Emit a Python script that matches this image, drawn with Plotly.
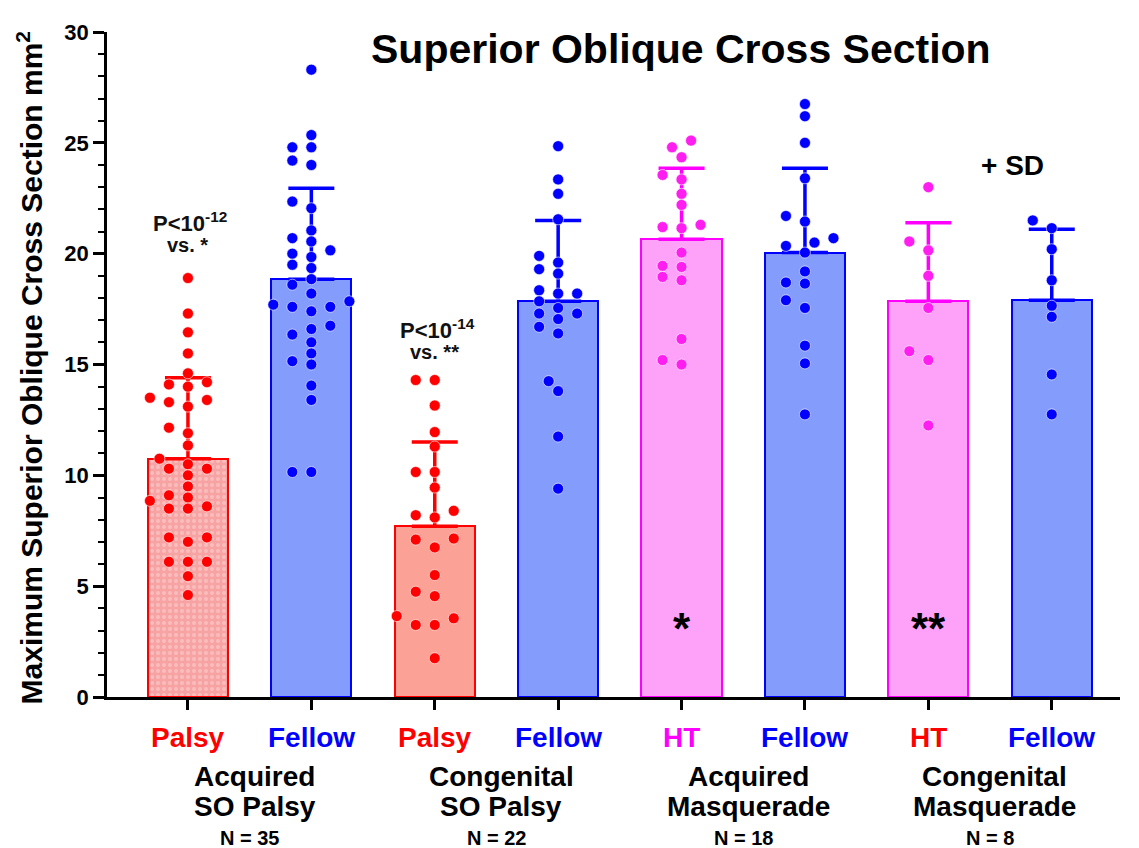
import plotly.graph_objects as go

# ---- data ----
bar_labels = ["Palsy", "Fellow", "Palsy", "Fellow", "HT", "Fellow", "HT", "Fellow"]
group_line1 = ["Acquired", "Congenital", "Acquired", "Congenital"]
group_line2 = ["SO Palsy", "SO Palsy", "Masquerade", "Masquerade"]
group_n = ["N = 35", "N = 22", "N = 18", "N = 8"]

means = [10.75, 18.85, 7.7, 17.85, 20.65, 20.05, 17.85, 17.9]
sds = [3.65, 4.1, 3.8, 3.65, 3.2, 3.8, 3.55, 3.2]

acq_palsy = [18.9, 17.3, 16.45, 15.5, 14.6, 14.2, 14.1, 14.0, 13.5, 13.4, 13.3, 13.1,
             12.15, 11.9, 11.35, 10.75, 10.5, 10.3, 10.3, 10.0, 9.5, 9.1, 9.0, 8.85,
             8.6, 8.5, 8.5, 7.2, 7.2, 7.0, 6.1, 6.1, 6.1, 5.45, 4.6]
acq_fellow = [28.3, 25.35, 24.8, 24.8, 24.2, 24.0, 22.35, 22.05, 21.05, 20.7, 20.55,
              20.15, 20.0, 19.85, 19.5, 19.35, 18.85, 18.6, 18.2, 17.85, 17.7, 17.6,
              17.6, 17.4, 16.75, 16.6, 16.35, 16.0, 15.5, 15.15, 15.0, 14.05, 13.4,
              10.15, 10.15]
cong_palsy = [14.3, 14.3, 13.15, 11.95, 11.3, 10.15, 10.15, 9.45, 8.4, 8.2, 8.1, 7.15,
              7.1, 6.75, 5.5, 4.75, 4.55, 3.65, 3.55, 3.25, 3.25, 1.75]
cong_fellow = [24.85, 23.35, 22.7, 21.55, 19.9, 19.6, 19.3, 19.1, 18.35, 18.2, 18.2,
               17.85, 17.55, 17.3, 17.3, 17.05, 16.7, 16.4, 14.25, 13.8, 11.75, 9.4]
acq_ht = [25.1, 24.8, 24.35, 23.55, 23.35, 22.7, 22.2, 21.3, 21.2, 21.15, 20.05, 19.45,
          19.4, 18.95, 18.8, 16.15, 15.2, 15.0]
acq_ht_fellow = [26.75, 26.2, 25.0, 23.4, 21.7, 21.45, 20.7, 20.5, 20.35, 20.05, 19.2,
                 18.7, 18.65, 17.9, 17.55, 15.85, 15.05, 12.75]
cong_ht = [23.0, 20.55, 20.15, 19.0, 17.55, 15.6, 15.2, 12.25]
cong_ht_fellow = [21.5, 21.15, 20.2, 18.8, 17.65, 17.15, 14.55, 12.75]

points = [acq_palsy, acq_fellow, cong_palsy, cong_fellow,
          acq_ht, acq_ht_fellow, cong_ht, cong_ht_fellow]

# ---- styling ----
RED = "#ff0000"
BLUE = "#0000ff"
MAG = "#ff00ff"
edge_col = [RED, BLUE, RED, BLUE, MAG, BLUE, MAG, BLUE]
dot_col = [RED, BLUE, RED, BLUE, "#ff1ef0", BLUE, "#ff1ef0", BLUE]
fill_col = ["#f7a3a3", "#849cfc", "#fca195", "#849cfc", "#fda2f8", "#849cfc", "#fda2f8", "#849cfc"]
label_col = [RED, BLUE, RED, BLUE, MAG, BLUE, RED, BLUE]

SANS = "Liberation Sans, Arial, sans-serif"

# page has an 8px body margin, so the figure is placed at (8, 8)
W, H = 1131, 840
ML, MR, MT, MB = 99, 19, 17, 151
PL, PB = ML + 8, H - MB + 8          # plot-area left / bottom in page pixels
PW, PH = W - ML - MR, H - MT - MB
XR = [-0.656, 7.553]
YR = [0, 30]
px_x = PW / (XR[1] - XR[0])
px_y = PH / (YR[1] - YR[0])


def px2paper_x(p):
    return (p - PL) / PW


def px2paper_y(p):
    return (PB - p) / PH


def swarm(vals, dot_w=19.0, dot_h=10.5):
    # simple beeswarm: spread points sideways so dots don't overlap
    placed = []
    offs = [0.0] * len(vals)
    cands = [0.0]
    for k in range(1, 14):
        cands += [-k * dot_w / 2, k * dot_w / 2]
    for i in sorted(range(len(vals)), key=lambda j: vals[j]):
        y = vals[i] * px_y
        for c in cands:
            if all(((c - ox) / dot_w) ** 2 + ((y - oy) / dot_h) ** 2 >= 1 for ox, oy in placed):
                break
        placed.append((c, y))
        offs[i] = c / px_x
    return offs


fig = go.Figure()

for i in range(8):
    marker = dict(color=fill_col[i], line=dict(color=edge_col[i], width=2))
    if i == 0:
        marker["pattern"] = dict(shape=".", bgcolor=fill_col[i], fgcolor="#ffd6d6",
                                 size=6, solidity=0.35)
    fig.add_trace(go.Bar(
        x=[i], y=[means[i]], width=0.65,
        marker=marker,
        error_y=dict(type="data", array=[sds[i]], arrayminus=[0], symmetric=False,
                     color=edge_col[i], thickness=3.5, width=23),
        showlegend=False, hoverinfo="skip"))

for i, vals in enumerate(points):
    offs = swarm(vals)
    fig.add_trace(go.Scatter(
        x=[i + o for o in offs], y=vals, mode="markers",
        marker=dict(size=11, color=dot_col[i], line=dict(color="white", width=0.6)),
        showlegend=False, hoverinfo="y"))

ann = []
# category labels under each bar
for i, t in enumerate(bar_labels):
    ann.append(dict(x=i, y=px2paper_y(738), xref="x", yref="paper", text=t, showarrow=False,
                    xanchor="center", yanchor="middle",
                    font=dict(family=SANS, size=28, color=label_col[i], weight="bold")))
# group labels
for g in range(4):
    xc = 2 * g + 0.5 + 0.04
    ann.append(dict(x=xc, y=px2paper_y(777), xref="x", yref="paper", text=group_line1[g],
                    showarrow=False, xanchor="center", yanchor="middle",
                    font=dict(family=SANS, size=28, color="black", weight="bold")))
    ann.append(dict(x=xc, y=px2paper_y(808), xref="x", yref="paper", text=group_line2[g],
                    showarrow=False, xanchor="center", yanchor="middle",
                    font=dict(family=SANS, size=28, color="black", weight="bold")))
    ann.append(dict(x=xc - 0.04, y=px2paper_y(839), xref="x", yref="paper", text=group_n[g],
                    showarrow=False, xanchor="center", yanchor="middle",
                    font=dict(family=SANS, size=20, color="black", weight="bold")))

# statistics text
stat_font = dict(family=SANS, size=22, color="#111111", weight="bold")
ann += [
    dict(x=0.02, y=21.45, text="P<10<sup>-12</sup>", showarrow=False, font=stat_font),
    dict(x=0.0, y=20.4, text="vs. *", showarrow=False, font=dict(stat_font, size=20)),
    dict(x=2.02, y=16.6, text="P<10<sup>-14</sup>", showarrow=False, font=stat_font),
    dict(x=2.0, y=15.55, text="vs. **", showarrow=False, font=dict(stat_font, size=20)),
    dict(x=4.0, y=3.1, text="*", showarrow=False,
         font=dict(family=SANS, size=44, color="black", weight="bold")),
    dict(x=6.0, y=3.1, text="**", showarrow=False,
         font=dict(family=SANS, size=44, color="black", weight="bold")),
    dict(x=6.68, y=24.0, text="+ SD", showarrow=False,
         font=dict(family=SANS, size=28, color="black", weight="bold")),
]
# title
ann.append(dict(x=px2paper_x(681), y=px2paper_y(42), xref="paper", yref="paper",
                text="Superior Oblique Cross Section", showarrow=False,
                xanchor="center", yanchor="middle",
                font=dict(family=SANS, size=41, color="black", weight="bold")))
# y axis title
ann.append(dict(x=px2paper_x(30), y=px2paper_y(364), xref="paper", yref="paper",
                text="Maximum Superior Oblique Cross Section mm<sup>2</sup>", textangle=-90,
                showarrow=False, xanchor="center", yanchor="middle",
                font=dict(family=SANS, size=30, color="black", weight="bold")))

fig.update_layout(
    width=W, height=H,
    margin=dict(l=ML, r=MR, t=MT, b=MB, pad=0),
    paper_bgcolor="white", plot_bgcolor="white",
    bargap=0, showlegend=False,
    annotations=ann,
    xaxis=dict(range=XR, tickvals=list(range(8)), showticklabels=False,
               ticks="outside", ticklen=10, tickwidth=2.5, tickcolor="black",
               showline=True, linewidth=2.5, linecolor="black",
               showgrid=False, zeroline=False, fixedrange=True),
    yaxis=dict(range=YR, tick0=0, dtick=5, ticks="outside", ticklen=11, tickwidth=2.5,
               tickcolor="black", showline=True, linewidth=2.5, linecolor="black",
               minor=dict(dtick=1, ticks="outside", ticklen=6, tickwidth=2, tickcolor="black"),
               tickfont=dict(family=SANS, size=22, color="black", weight="bold"),
               showgrid=False, zeroline=False, fixedrange=True),
)

fig.write_html("out.html")
